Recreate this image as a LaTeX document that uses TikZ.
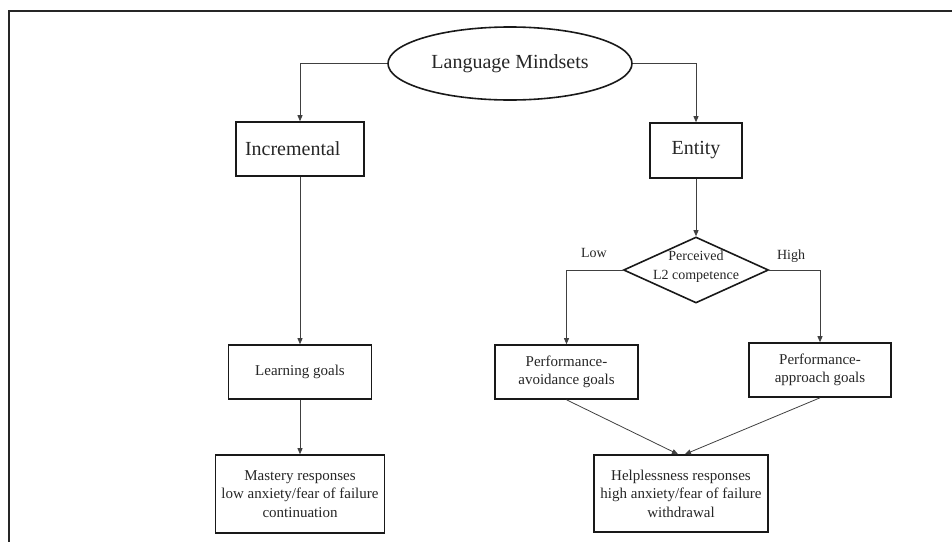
\documentclass[tikz,border=0pt]{standalone}
\usepackage{fontspec}
\setmainfont{Liberation Serif}
\usetikzlibrary{shapes.geometric,arrows.meta}
\begin{document}
\begin{tikzpicture}[x=1pt,y=-1pt,
 box/.style={draw=black!90, line width=1.6pt, inner sep=0pt, align=center, text=black!85},
 conn/.style={draw=black!75, line width=0.8pt, -{Triangle[length=6pt,width=5pt]}},
 big/.style={font=\fontsize{20}{24}\selectfont},
 mid/.style={font=\fontsize{15}{18.5}\selectfont},
 small/.style={font=\fontsize{14}{19}\selectfont, text=black!85}]
\useasboundingbox (0,0) rectangle (952,541);
\clip (0,0) rectangle (952,541);
\draw[line width=2pt, draw=black!85] (9,11) rectangle (990,580);

\node[draw=black!90, ellipse, line width=1.6pt, minimum width=244pt, minimum height=73pt, inner sep=0pt, big, text=black!85] (lm) at (510,63.5) {Language Mindsets};
\node[box, big, minimum width=128pt, minimum height=54pt, text width=110pt, inner xsep=9pt, align=left] (inc) at (300,149) {Incremental};
\node[box, big, minimum width=92pt, minimum height=55pt] (ent) at (696,150.5) {Entity};
\node[draw=black!90, diamond, line width=1.6pt, minimum width=145pt, minimum height=66pt, inner sep=0pt, aspect=2.2] (dia) at (696,270) {};
\node[small, align=center] (diatext) at (696,267) {Perceived\\L2 competence};
\node[box, mid, minimum width=143pt, minimum height=54pt] (pav) at (566.5,372) {Performance-\\avoidance goals};
\node[box, mid, minimum width=142pt, minimum height=54pt] (pap) at (820,370) {Performance-\\approach goals};
\node[box, mid, minimum width=143pt, minimum height=54pt] (lg) at (300,372) {Learning goals};
\node[box, mid, minimum width=169pt, minimum height=78pt] (mast) at (300,494) {Mastery responses\\low anxiety/fear of failure\\continuation};
\node[box, mid, minimum width=174pt, minimum height=77pt] (help) at (681,493.5) {Helplessness responses\\high anxiety/fear of failure\\withdrawal};
\node[small] (low) at (594,253) {Low};
\node[small] (high) at (791,256) {High};

\draw[conn] (lm.west) -| (inc.north);
\draw[conn] (lm.east) -| (ent.north);
\draw[conn] (ent.south) -- (dia.north);
\draw[conn] (dia.west) -| (pav.north);
\draw[conn] (dia.east) -| (pap.north);
\draw[conn] (inc.south) -- (lg.north);
\draw[conn] (lg.south) -- (mast.north);
\draw[conn] (pav.south) -- ([xshift=-3pt]help.north);
\draw[conn] (pap.south) -- ([xshift=4pt]help.north);
\end{tikzpicture}
\end{document}
